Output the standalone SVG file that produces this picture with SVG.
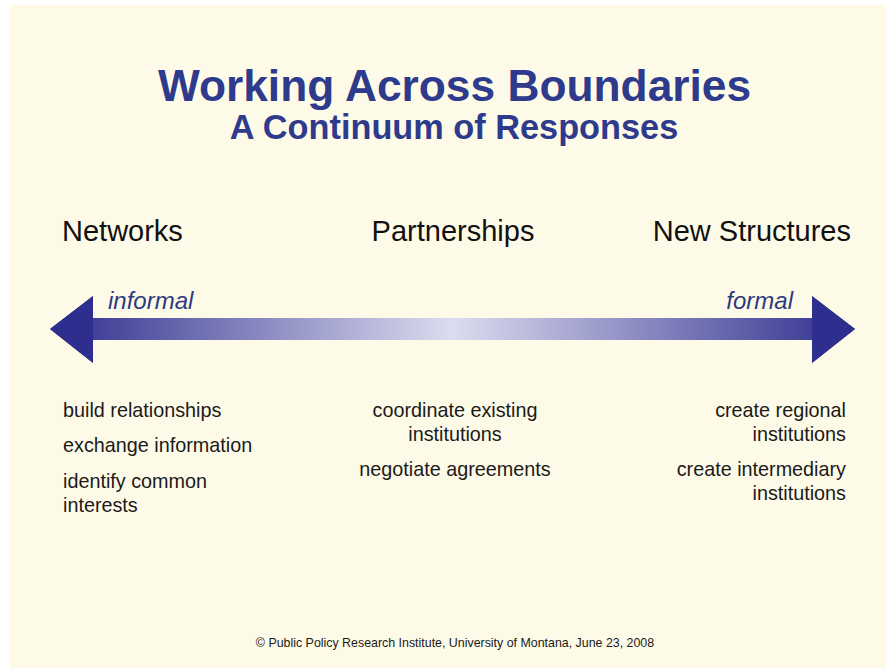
<svg xmlns="http://www.w3.org/2000/svg" width="886" height="668" viewBox="0 0 886 668">
  <defs>
    <linearGradient id="shaft" x1="50" y1="0" x2="855" y2="0" gradientUnits="userSpaceOnUse">
      <stop offset="0" stop-color="#2E2E8E"/>
      <stop offset="0.5" stop-color="#DCDCEF"/>
      <stop offset="1" stop-color="#2E2E8E"/>
    </linearGradient>
  </defs>
  <style>
    .title { font-family: "Liberation Sans", Arial, sans-serif; font-weight: bold; fill: #2E3A8C; text-anchor: middle; }
    .head { font-family: "Liberation Sans", Arial, sans-serif; font-size: 29px; fill: #111111; }
    .end { font-family: "Liberation Sans", Arial, sans-serif; font-size: 24px; font-style: italic; fill: #2E3A80; }
    .body { font-family: "Liberation Sans", Arial, sans-serif; font-size: 19.8px; fill: #1A1A1A; }
    .foot { font-family: "Liberation Sans", Arial, sans-serif; font-size: 12.4px; fill: #1A1A1A; text-anchor: middle; }
  </style>
  <rect x="0" y="0" width="886" height="668" fill="#FFFFFF"/>
  <rect x="10" y="5" width="876" height="663" fill="#FEFAE8"/>

  <g id="title">
    <text class="title" x="454.5" y="101" font-size="44.3">Working Across Boundaries</text>
    <text class="title" x="454" y="139" font-size="34.3">A Continuum of Responses</text>
  </g>

  <g id="connectors">
    <path d="M50,329 L93,296 L93,318 L812,318 L812,296 L855,329 L812,363 L812,340 L93,340 L93,363 Z" fill="url(#shaft)"/>
    <path d="M50,329 L93,296 L93,363 Z" fill="#2E2E8E"/>
    <path d="M855,329 L812,296 L812,363 Z" fill="#2E2E8E"/>
  </g>

  <g id="networks">
    <text class="head" x="62" y="241">Networks</text>
    <text class="end" x="108" y="309">informal</text>
    <text class="body" x="63" y="417">build relationships</text>
    <text class="body" x="63" y="452">exchange information</text>
    <text class="body" x="63" y="488">identify common</text>
    <text class="body" x="63" y="512">interests</text>
  </g>

  <g id="partnerships">
    <text class="head" x="453" y="241" text-anchor="middle">Partnerships</text>
    <text class="body" x="455" y="417" text-anchor="middle">coordinate existing</text>
    <text class="body" x="455" y="441" text-anchor="middle">institutions</text>
    <text class="body" x="455" y="476" text-anchor="middle">negotiate agreements</text>
  </g>

  <g id="new-structures">
    <text class="head" x="851" y="241" text-anchor="end">New Structures</text>
    <text class="end" x="793" y="309" text-anchor="end">formal</text>
    <text class="body" x="846" y="417" text-anchor="end">create regional</text>
    <text class="body" x="846" y="441" text-anchor="end">institutions</text>
    <text class="body" x="846" y="476" text-anchor="end">create intermediary</text>
    <text class="body" x="846" y="500" text-anchor="end">institutions</text>
  </g>

  <g id="footer">
    <text class="foot" x="455" y="647">© Public Policy Research Institute, University of Montana, June 23, 2008</text>
  </g>
</svg>
